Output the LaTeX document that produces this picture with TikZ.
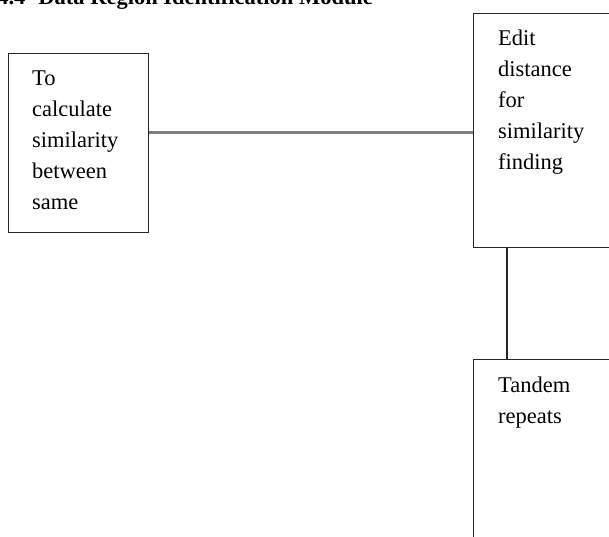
\documentclass[tikz,border=0pt]{standalone}
\usepackage{fontspec}
\setmainfont{Liberation Serif}
\usepackage{tikz}
\usetikzlibrary{positioning}
\definecolor{linkc}{HTML}{7F7F7F}

\begin{document}
\begin{tikzpicture}[x=1pt, y=-1pt,
  box/.style={draw=black!85, line width=1.2pt, anchor=north west, inner sep=0pt},
  txt/.style={anchor=base west, inner sep=0pt, text width=130pt, align=left,
    font=\fontsize{22.5}{31}\selectfont},
  ttl/.style={anchor=base east, inner sep=0pt, font=\fontsize{22.5}{27}\selectfont\bfseries},
  grayln/.style={draw=linkc, line width=2.4pt},
  blackln/.style={draw=black!85, line width=1.2pt}
]
  \useasboundingbox (0,0) rectangle (609,536);

  \node[ttl] (title) at (373,4) {4.4\hspace{13pt}Data Region Identification Module};

  \node[box, minimum width=140pt, minimum height=179pt] (calc) at (8,53) {};
  \node[box, minimum width=177pt, minimum height=234pt] (edit) at (473,13) {};
  \node[box, minimum width=177pt, minimum height=210pt] (tandem) at (473,359) {};

  \node[txt] (calctxt) at (32,85) {To\\calculate\\similarity\\between\\same};
  \node[txt] (edittxt) at (498,45) {Edit\\distance\\for\\similarity\\finding};
  \node[txt] (tandemtxt) at (498,392) {Tandem\\repeats};

  \draw[grayln] ([yshift=-2pt]calc.east |- edit.west) -- ([yshift=-2pt]edit.west);
  \draw[blackln] ([xshift=34pt]edit.south west) -- ([xshift=34pt]tandem.north west);
\end{tikzpicture}
\end{document}
